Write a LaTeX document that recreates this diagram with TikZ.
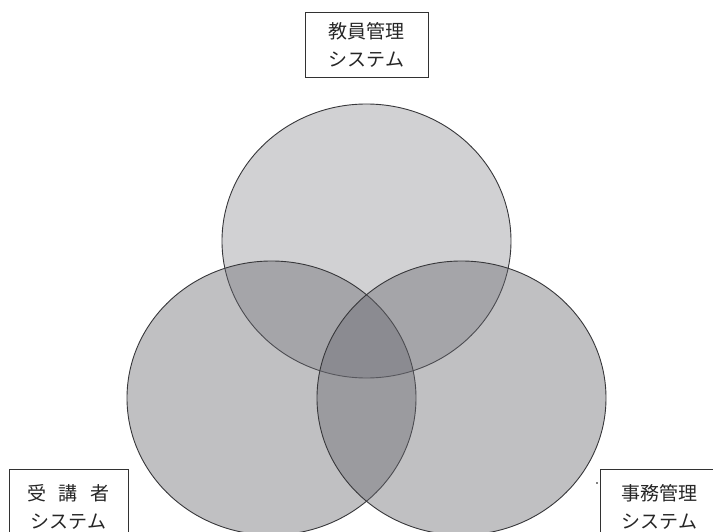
\documentclass[tikz,border=0pt]{standalone}
\usepackage{fontspec}
\newfontfamily\jpfont{Noto Sans CJK JP}
\newfontfamily\jpwide[WordSpace=1.7]{Noto Sans CJK JP}
\definecolor{setfill}{RGB}{105,105,112}
\definecolor{setline}{RGB}{55,55,58}
\definecolor{boxline}{RGB}{50,50,50}
\begin{document}
\begin{tikzpicture}[x=1pt,y=-1pt,
  setshape/.style={draw=setline,line width=0.9pt,fill=setfill},
  labelbox/.style={draw=boxline,line width=0.9pt,fill=white,align=center,inner sep=0pt,
    font=\jpfont\fontsize{19}{28}\selectfont,text=black!85}]
\useasboundingbox (0,0) rectangle (713,532);
\fill[white] (0,0) rectangle (713,532);
\begin{scope}
\clip (0,0) rectangle (713,532);
\draw[setshape,fill opacity=0.30] (366.5,241) ellipse [x radius=144.5,y radius=137];
\draw[setshape,fill opacity=0.42] (271.5,398) ellipse [x radius=144.5,y radius=137];
\draw[setshape,fill opacity=0.42] (461.5,398) ellipse [x radius=144.5,y radius=137];
\node[labelbox,minimum width=123,minimum height=65] (teacher) at (366.5,44.5) {教員管理\\システム};
\node[labelbox,minimum width=119,minimum height=76] (student) at (68.5,507) {{\jpwide 受 講 者}\\システム};
\node[labelbox,minimum width=119,minimum height=76] (office) at (659.5,507) {事務管理\\システム};
\fill[black] (597,483) circle [radius=0.9];
\end{scope}
\end{tikzpicture}
\end{document}
